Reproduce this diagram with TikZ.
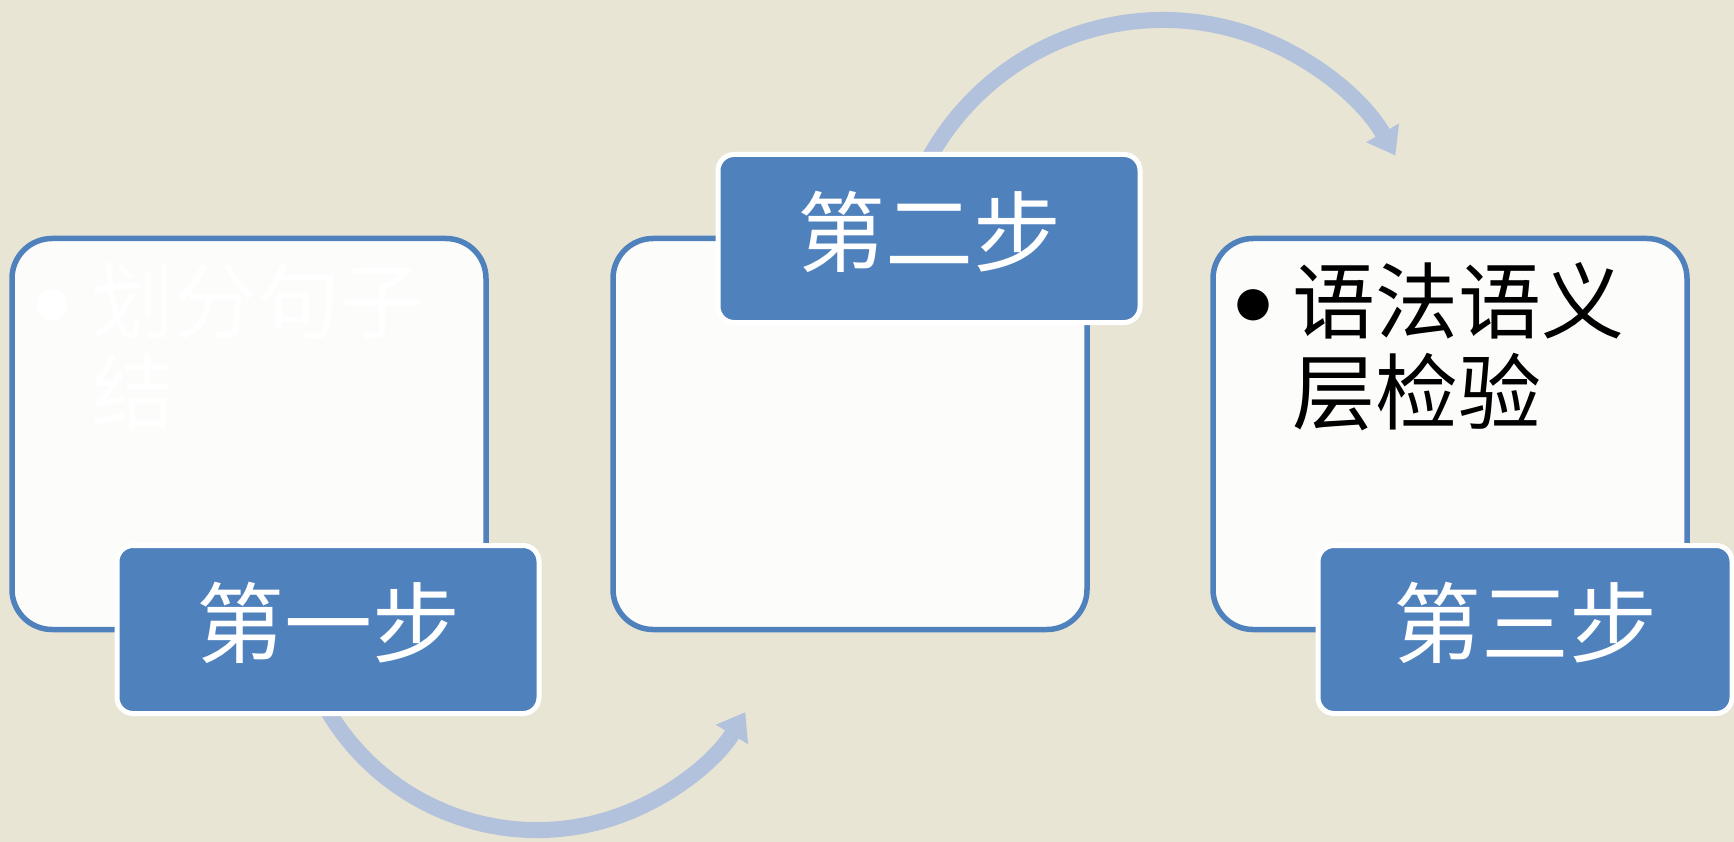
\documentclass[tikz,border=0pt]{standalone}
\usepackage{fontspec}
\setmainfont{Noto Sans CJK SC}
\usetikzlibrary{positioning,arrows.meta}

\definecolor{paper}{HTML}{E9E5D4}
\definecolor{accent}{HTML}{4F81BD}
\definecolor{panelfill}{HTML}{FCFCFA}
\definecolor{flow}{HTML}{B2C2DD}

\newcommand{\bigdot}{\makebox[0pt]{\smash{\raisebox{-29pt}{\fontsize{148}{91}\selectfont •}}}}

\begin{document}
\begin{tikzpicture}[x=1pt, y=-1pt,
  panel/.style={rectangle, rounded corners=40pt, draw=accent, fill=panelfill, line width=5.5pt, minimum width=474pt, minimum height=391pt, inner sep=0pt, outer sep=0pt},
  stepbox/.style={rectangle, rounded corners=16pt, draw=white, fill=accent, line width=5pt, minimum width=422pt, minimum height=168pt, inner sep=0pt, outer sep=0pt, text=white, text height=77pt, text depth=23pt, font=\fontsize{88}{88}\selectfont},
  listtext/.style={anchor=north west, align=left, inner sep=0pt, font=\fontsize{83}{91}\selectfont},
  flowarc/.style={draw=flow, line width=16pt, -{Triangle[length=26pt, width=36pt]}}]
  %Background
  \fill[paper] (0,0) rectangle (1734,842);
  \useasboundingbox (0,0) rectangle (1734,842);
  %Arcs
  \coordinate (hubA) at (537,587);
  \coordinate (hubB) at (1163,287);
  \draw[flowarc] ([shift={(160:243)}]hubA) arc[start angle=160, end angle=31, radius=243];
  \draw[flowarc] ([shift={(200:267)}]hubB) arc[start angle=200, end angle=330.5, radius=267];
  %Panels
  \node[panel] (panelA) at (249,434) {};
  \node[panel] (panelB) [right=127pt of panelA] {};
  \node[panel] (panelC) [right=126pt of panelB] {};
  %Texts
  \node[listtext, text=white] (textA) at ([shift={(24,24)}]panelA.north west) {\hspace*{16pt}\bigdot\hspace*{39pt}划分句子\\\hspace*{55pt}结};
  \node[listtext] (textC) at ([shift={(24,24)}]panelC.north west) {\hspace*{16pt}\bigdot\hspace*{39pt}语法语义\\\hspace*{55pt}层检验};
  %Steps
  \node[stepbox, anchor=west] (stepA) at ([xshift=105pt]panelA.south west) {第一步};
  \node[stepbox, anchor=west] (stepB) at ([xshift=105pt]panelB.north west) {第二步};
  \node[stepbox, anchor=west, minimum width=414pt] (stepC) at ([xshift=105pt]panelC.south west) {第三步};
\end{tikzpicture}
\end{document}
